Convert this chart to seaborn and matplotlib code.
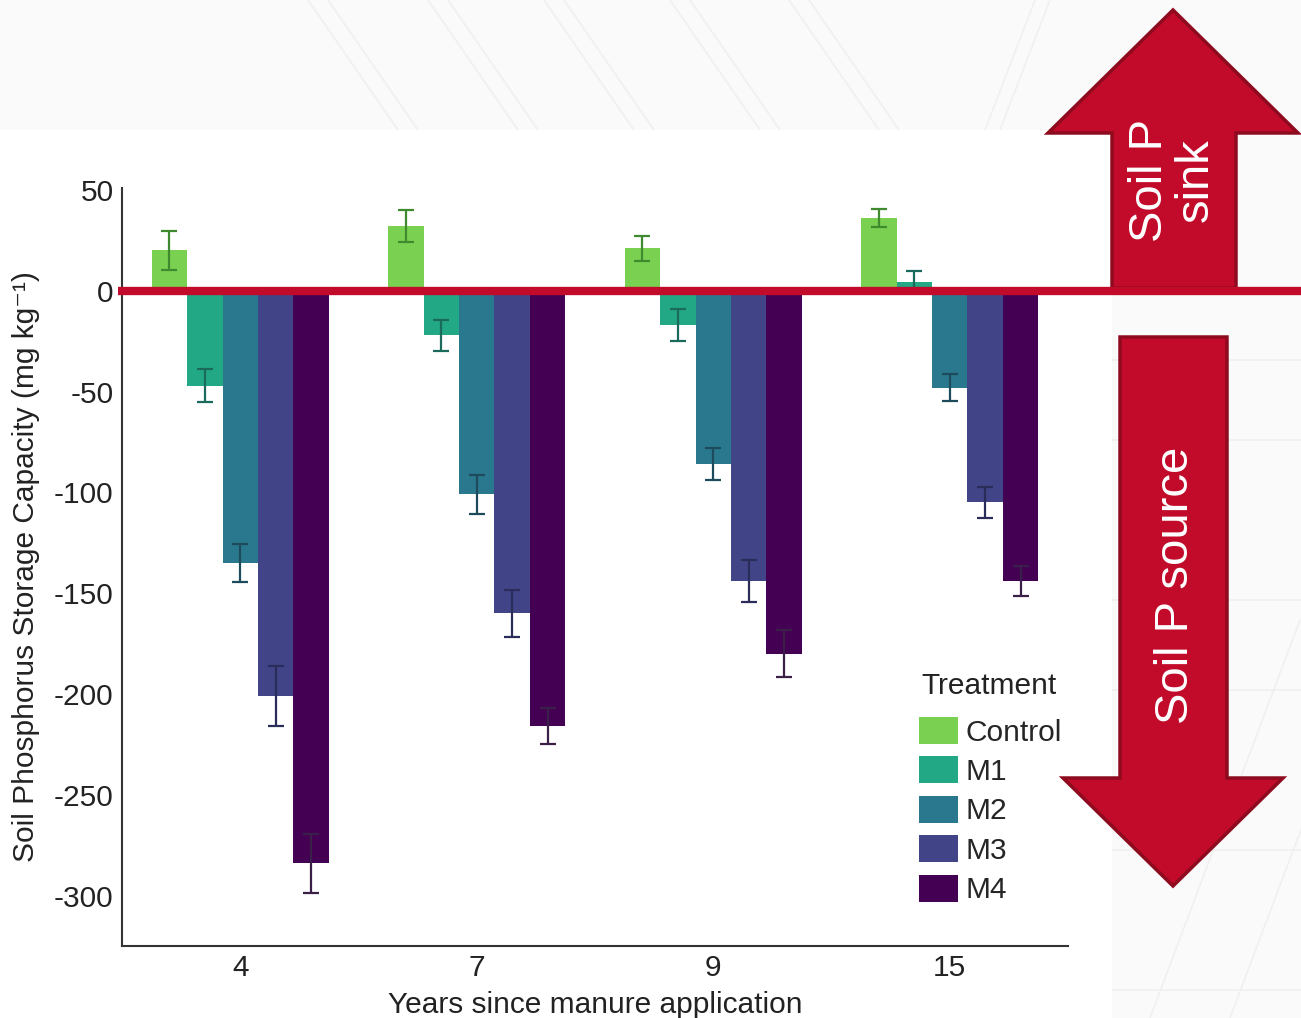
import matplotlib
matplotlib.use("Agg")
import matplotlib.pyplot as plt
import matplotlib.transforms as mtrans
from matplotlib.patches import Polygon, Rectangle
from matplotlib.lines import Line2D
import seaborn as sns
import pandas as pd

# ---------------- data ----------------
years = ["4", "7", "9", "15"]
treatments = ["Control", "M1", "M2", "M3", "M4"]
control = [20, 32, 21, 36]
m1 = [-47, -22, -17, 4.5]
m2 = [-135, -101, -86, -48]
m3 = [-201, -160, -144, -105]
m4 = [-284, -216, -180, -144]
control_err = [9.5, 8, 6, 4.5]
m1_err = [8, 7.7, 7.8, 5.3]
m2_err = [9.5, 9.5, 8, 6.5]
m3_err = [15, 11.5, 10.5, 7.8]
m4_err = [14.8, 9, 11.8, 7.5]
y_ticks = [50, 0, -50, -100, -150, -200, -250, -300]

bar_colors = ["#7ad151", "#22a884", "#2a788e", "#414487", "#440154"]
err_colors = ["#3f8a2e", "#1b6b5c", "#1d4b5c", "#2a2c5a", "#3a1f48"]

values = [control, m1, m2, m3, m4]
errors = [control_err, m1_err, m2_err, m3_err, m4_err]
rows = []
for t, vals in zip(treatments, values):
    for yr, v in zip(years, vals):
        rows.append({"Year": yr, "Treatment": t, "Value": v})
df = pd.DataFrame(rows)

# ---------------- style ----------------
sns.set_theme(style="white")
plt.rcParams["font.family"] = ["Liberation Sans", "DejaVu Sans"]

W, H = 1301, 1018
fig = plt.figure(figsize=(W / 100, H / 100), dpi=100)
fig.patch.set_facecolor("#fafafa")


def fx(x):
    return x / W


def fy(y):
    return 1 - y / H


# faint background decoration
for x0 in [308, 428, 544, 670, 789]:
    for dx in (0, 20):
        fig.add_artist(Line2D([fx(x0 + dx), fx(x0 + dx + 90)], [fy(0), fy(130)],
                              color="#f0f0f0", lw=1.2, zorder=-20))
fig.add_artist(Line2D([fx(985), fx(1035)], [fy(130), fy(0)], color="#f0f0f0", lw=1.2, zorder=-20))
fig.add_artist(Line2D([fx(1000), fx(1050)], [fy(130), fy(0)], color="#f0f0f0", lw=1.2, zorder=-20))
for yy in [360, 440, 600, 690, 850, 990]:
    fig.add_artist(Line2D([fx(1112), fx(1301)], [fy(yy), fy(yy)], color="#f0f0f0", lw=1.2, zorder=-20))
for x0 in [1150, 1230]:
    fig.add_artist(Line2D([fx(x0), fx(x0 + 150)], [fy(1018), fy(620)], color="#f0f0f0", lw=1.2, zorder=-20))

fig.add_artist(Rectangle((0, 0), fx(1112), fy(130), transform=fig.transFigure,
                         facecolor="white", edgecolor="none", zorder=-10))

ax = fig.add_axes([fx(122), fy(946), fx(1068) - fx(122), fy(188) - fy(946)])
ax.set_facecolor("none")

sns.barplot(data=df, x="Year", y="Value", hue="Treatment", order=years,
            hue_order=treatments, palette=bar_colors, saturation=1,
            width=0.75, errorbar=None, linewidth=0, edgecolor="none", ax=ax)

bar_containers = list(ax.containers)
for i, cont in enumerate(bar_containers):
    for j, bar in enumerate(cont):
        xc = bar.get_x() + bar.get_width() / 2
        yv = bar.get_y() + bar.get_height()
        ax.errorbar(xc, yv, yerr=errors[i][j], fmt="none", ecolor=err_colors[i],
                    elinewidth=1.6, capsize=6, capthick=1.6, zorder=3)

ax.set_ylim(-325, 51)
ax.set_xlim(-0.5, 3.5)
ax.set_yticks(y_ticks)
ax.set_yticklabels([str(v) for v in y_ticks])
for s in ["top", "right"]:
    ax.spines[s].set_visible(False)
for s in ["left", "bottom"]:
    ax.spines[s].set_color("#333333")
    ax.spines[s].set_linewidth(1.5)
ax.tick_params(length=0, pad=6, labelsize=21.5, colors="#222222")
ax.set_xlabel("Years since manure application", fontsize=21.5, labelpad=6, color="#222222")
ax.set_ylabel("Soil Phosphorus Storage Capacity (mg kg⁻¹)", fontsize=21.5, labelpad=10,
              color="#222222")

handles, labels = ax.get_legend_handles_labels()
ax.legend(handles, labels, loc="upper left",
          bbox_to_anchor=(fx(919), fy(717)), bbox_transform=fig.transFigure,
          frameon=False, fontsize=21.5, handlelength=1.3,
          handleheight=1.0, handletextpad=0.25, labelspacing=0.33, borderpad=0,
          borderaxespad=0)
fig.text(fx(921), fy(686), "Treatment", ha="left", va="center", fontsize=21.5,
         color="#222222")

# arrows
fill = "#c20b2a"
edge = "#8e0a1e"
up = [(1173, 10), (1298, 133), (1236, 133), (1236, 288), (1112, 288), (1112, 133), (1048, 133)]
down = [(1120, 337), (1227, 337), (1227, 778), (1283, 778), (1173, 886), (1063, 778), (1120, 778)]
for poly in (up, down):
    fig.add_artist(Polygon([(fx(x), fy(y)) for x, y in poly], closed=True,
                           transform=fig.transFigure, facecolor=fill, edgecolor=edge,
                           lw=2.5, zorder=4))

fig.text(fx(1173), fy(180), "Soil P\nsink", rotation=90, ha="center", va="center",
         color="white", fontsize=34, linespacing=1.05, zorder=6)
fig.text(fx(1176), fy(585), "Soil P source", rotation=90, ha="center", va="center",
         color="white", fontsize=34, zorder=6)

# zero line
blend = mtrans.blended_transform_factory(fig.transFigure, ax.transData)
fig.add_artist(Line2D([fx(118), 1.0], [0, 0], transform=blend, color="#c20a2a",
                      lw=6, solid_capstyle="butt", zorder=5))

fig.savefig("out.png", dpi=100, facecolor=fig.get_facecolor())
